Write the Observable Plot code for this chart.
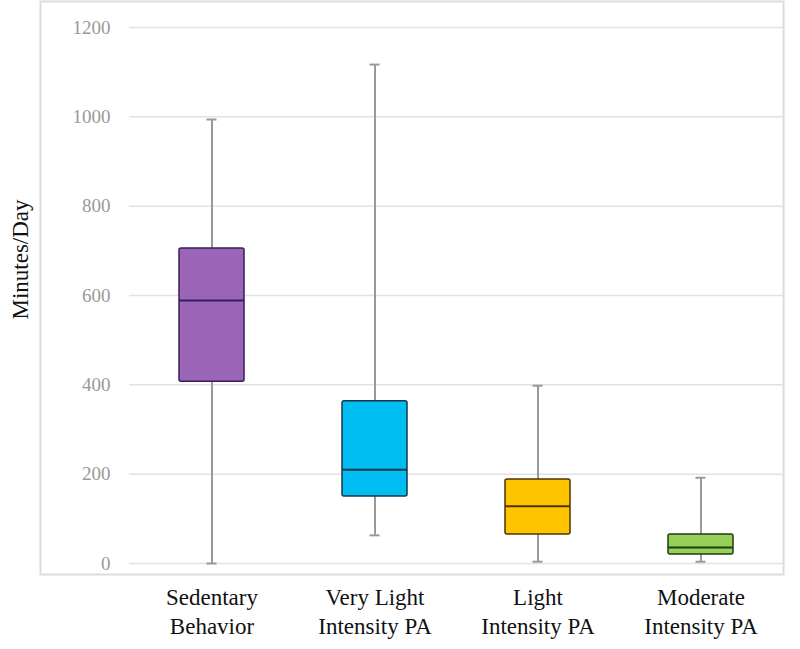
<!DOCTYPE html>
<html>
<head>
<meta charset="utf-8">
<script src="https://cdn.jsdelivr.net/npm/d3@7"></script>
<script src="https://cdn.jsdelivr.net/npm/@observablehq/plot@0.6"></script>
<style>
  html, body { margin: 0; padding: 0; background: #fff; }
  svg { font-family: "Liberation Serif", "Times New Roman", serif; }
</style>
</head>
<body>
<div id="chart"></div>
<script>
// Categories and their two-line labels
const categories = ["Sedentary", "VeryLight", "Light", "Moderate"];
const labels = ["Sedentary\nBehavior", "Very Light\nIntensity PA", "Light\nIntensity PA", "Moderate\nIntensity PA"];
// Box-plot summary statistics (minutes/day)
const whiskerMin = [0, 63, 4, 4];
const q1 = [407, 150, 65, 20];
const median = [589, 210, 128, 36];
const q3 = [705, 363, 188, 65];
const whiskerMax = [994, 1117, 398, 192];
// Colours
const fills = ["#9b65b8", "#00bdf2", "#ffc400", "#96d05a"];
const strokes = ["#3a1d58", "#17384a", "#4d3300", "#1e3d10"];
const yTicks = [0, 200, 400, 600, 800, 1000, 1200];

const data = categories.map((c, i) => ({
  cat: c, label: labels[i], min: whiskerMin[i], q1: q1[i], med: median[i],
  q3: q3[i], max: whiskerMax[i], fill: fills[i], stroke: strokes[i]
}));
const labelOf = Object.fromEntries(categories.map((c, i) => [c, labels[i]]));

const chart = Plot.plot({
  width: 800,
  height: 649,
  marginLeft: 129,
  marginRight: 17,
  marginTop: 27,
  marginBottom: 86,
  style: { fontFamily: '"Liberation Serif", "Times New Roman", serif', background: "#fff" },
  x: { domain: categories, paddingInner: 0.6, paddingOuter: 0.3, label: null },
  y: { domain: [0, 1200], label: null },
  marks: [
    Plot.frame({ stroke: "#dcdcdc", strokeWidth: 2, insetLeft: -89, insetTop: -26, insetBottom: -11 }),
    Plot.gridY(yTicks, { stroke: "#e2e2e2", strokeOpacity: 1, strokeWidth: 1.5 }),
    Plot.axisY(yTicks, { tickSize: 0, tickPadding: 19, fontSize: 19, fill: "#999", label: null, tickFormat: d => String(d) }),
    Plot.axisX({ tickSize: 0, tickPadding: 21, fontSize: 23, fill: "#111", lineHeight: 1.25, tickFormat: d => labelOf[d], label: null }),
    Plot.ruleX(data, { x: "cat", y1: "min", y2: "max", stroke: "#999", strokeWidth: 2 }),
    Plot.tickY(data, { x: "cat", y: "max", stroke: "#999", strokeWidth: 2, insetLeft: 27.5, insetRight: 27.5 }),
    Plot.tickY(data, { x: "cat", y: "min", stroke: "#999", strokeWidth: 2, insetLeft: 27.5, insetRight: 27.5 }),
    Plot.barY(data, { x: "cat", y1: "q1", y2: "q3", fill: d => d.fill, stroke: d => d.stroke, strokeWidth: 1.5, rx: 2 }),
    Plot.tickY(data, { x: "cat", y: "med", stroke: d => d.stroke, strokeWidth: 2 }),
    Plot.text(["Minutes/Day"], { frameAnchor: "left", textAnchor: "middle", rotate: -90, dx: -109, dy: -36, fontSize: 23, fill: "#111" })
  ]
});
document.getElementById("chart").appendChild(chart);
</script>
</body>
</html>
